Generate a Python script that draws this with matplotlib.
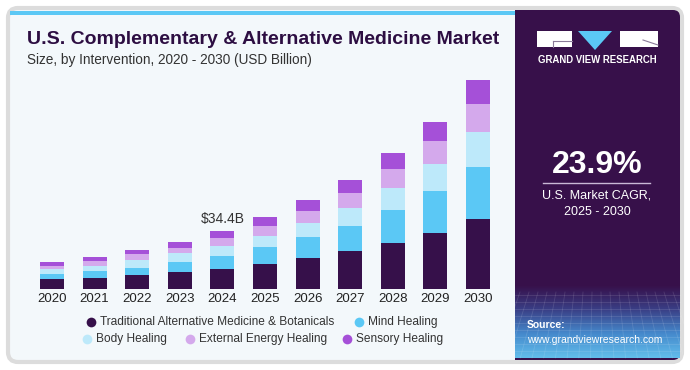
import numpy as np
import matplotlib
matplotlib.use("Agg")
import matplotlib.pyplot as plt
from matplotlib.patches import Rectangle, FancyBboxPatch, Polygon
from matplotlib.colors import LinearSegmentedColormap

# market size by intervention, USD billion
years = ["2020", "2021", "2022", "2023", "2024", "2025", "2026", "2027", "2028", "2029", "2030"]
traditional = [5.4, 6.3, 8.1, 9.9, 11.5, 14.5, 18.1, 22.1, 26.9, 33.0, 41.2]
mind = [3.3, 4.0, 4.4, 6.0, 7.9, 10.0, 12.4, 15.1, 19.9, 25.1, 31.4]
body = [2.8, 3.4, 4.4, 5.0, 5.8, 6.9, 8.4, 10.9, 13.3, 16.5, 21.1]
external = [2.2, 2.6, 3.4, 3.3, 4.8, 5.8, 7.3, 9.2, 11.0, 13.5, 16.7]
sensory = [2.1, 2.4, 2.4, 3.6, 4.4, 5.4, 6.4, 7.3, 9.6, 11.3, 14.3]

series = ["Traditional Alternative Medicine & Botanicals", "Mind Healing",
          "Body Healing", "External Energy Healing", "Sensory Healing"]
colors = ["#36104A", "#5BC8F5", "#BDE9FA", "#D4A9EC", "#A550D8"]
label_year = "2024"
label_text = "$34.4B"

W, H = 690, 370
fig = plt.figure(figsize=(W / 100, H / 100), dpi=100)
fig.patch.set_facecolor("white")

# background layer in pixel coordinates
bg = fig.add_axes([0, 0, 1, 1])
bg.set_xlim(0, W)
bg.set_ylim(H, 0)
bg.axis("off")

bg.add_patch(FancyBboxPatch((8, 8), 674, 354, boxstyle="round,pad=0,rounding_size=10",
                            fc="#F3F8FB", ec="#DCDCDC", lw=3))
bg.add_patch(Rectangle((10, 11), 505, 4, fc="#5BC8F5", ec="none"))
bg.add_patch(FancyBboxPatch((515, 10), 165, 350, boxstyle="round,pad=0,rounding_size=7",
                            fc="#37104A", ec="none"))
bg.add_patch(Rectangle((515, 10), 20, 350, fc="#37104A", ec="none"))

# blue gradient with grid at the bottom of the side panel
cmap = LinearSegmentedColormap.from_list("g", ["#37104A", "#3A3F86", "#4589CC", "#62BDEB"])
grad = np.linspace(0, 1, 100).reshape(-1, 1)
bg.imshow(grad, extent=(515, 680, 358, 285), cmap=cmap, aspect="auto", zorder=1)
for gy in np.arange(295, 358, 7):
    bg.plot([515, 680], [gy, gy], color="white", alpha=0.12, lw=0.6, zorder=2)
for gx in np.arange(520, 680, 9):
    bg.plot([gx, gx + (gx - 597) * 0.3], [292, 358], color="white", alpha=0.12, lw=0.6, zorder=2)

# logo
bg.add_patch(Rectangle((537, 31), 35, 16, fc="white", ec="none", zorder=3))
bg.plot([553, 572], [41, 41], color="#8A7A99", lw=0.8, zorder=4)
bg.plot([553, 553], [41, 47], color="#8A7A99", lw=0.8, zorder=4)
bg.add_patch(Polygon([(578, 31), (612, 31), (595, 50)], fc="#5BC8F5", ec="none", zorder=3))
bg.add_patch(Rectangle((620, 31), 38, 16, fc="white", ec="none", zorder=3))
bg.plot([643, 658], [40, 45], color="#8A7A99", lw=0.8, zorder=4)
bg.text(597.5, 60, "GRAND VIEW RESEARCH", color="white", fontsize=6.9, fontweight="bold",
        ha="center", va="center", family="Liberation Sans", zorder=4)

bg.text(597, 165, "23.9%", color="white", fontsize=23, fontweight="bold",
        ha="center", va="center", family="Liberation Sans", zorder=4)
bg.plot([543, 650], [183, 183], color="#C9B8D6", lw=1, zorder=4)
bg.text(597, 196, "U.S. Market CAGR,", color="white", fontsize=9,
        ha="center", va="center", family="Liberation Sans", zorder=4)
bg.text(597, 212, "2025 - 2030", color="white", fontsize=9,
        ha="center", va="center", family="Liberation Sans", zorder=4)
bg.text(527, 325, "Source:", color="white", fontsize=7.5, fontweight="bold",
        ha="left", va="center", family="Liberation Sans", zorder=4)
bg.text(527, 340, "www.grandviewresearch.com", color="white", fontsize=7.5,
        ha="left", va="center", family="Liberation Sans", zorder=4)

# titles
bg.text(27, 40, "U.S. Complementary & Alternative Medicine Market", color="#2D0E42",
        fontsize=14, fontweight="heavy", ha="left", va="center", family="Liberation Sans")
bg.text(27, 60, "Size, by Intervention, 2020 - 2030 (USD Billion)", color="#333333",
        fontsize=9.8, ha="left", va="center", family="Liberation Sans")

# legend rows
legend_pos = [(91, 322), (359, 322), (87, 339), (190, 339), (347, 339)]
for (lx, ly), name, c in zip(legend_pos, series, colors):
    bg.plot(lx, ly, "o", ms=7, color=c, mec="none")
    bg.text(lx + 9, ly, name, fontsize=8.6, color="#333333", ha="left", va="center",
            family="Liberation Sans")

# chart
ymax = 130
px_per_b = 1 / 0.597
left_px, right_px = 52 - 0.6 * 42.6, 478 + 0.6 * 42.6
base_px = 288.5
ax = fig.add_axes([left_px / W, (H - base_px) / H, (right_px - left_px) / W,
                   ymax * px_per_b / H])
ax.set_facecolor("none")
x = np.arange(len(years))
bottom = np.zeros(len(years))
for vals, c in zip([traditional, mind, body, external, sensory], colors):
    ax.bar(x, vals, 0.56, bottom=bottom, color=c, edgecolor="none")
    bottom += np.array(vals)
i = years.index(label_year)
ax.text(x[i], bottom[i] + 3, label_text, ha="center", va="bottom", fontsize=10,
        color="#333333", family="Liberation Sans")
ax.set_xlim(-0.6, len(years) - 0.4)
ax.set_ylim(0, ymax)
ax.set_xticks(x)
ax.set_xticklabels(years, fontsize=9.5, color="#222222", family="Liberation Sans")
ax.tick_params(axis="x", length=0, pad=3)
ax.set_yticks([])
for s in ax.spines.values():
    s.set_visible(False)

fig.savefig("out.png", dpi=100)
